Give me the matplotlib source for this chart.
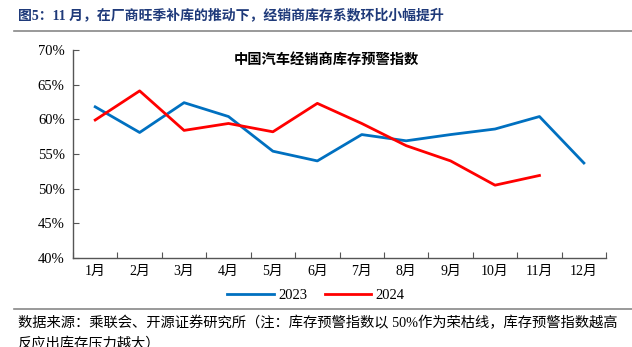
import numpy as np
import matplotlib
matplotlib.use("Agg")
import matplotlib.pyplot as plt
from matplotlib.lines import Line2D

plt.rcParams['font.family'] = ['Liberation Serif', 'Noto Sans CJK SC']

months = ['1月', '2月', '3月', '4月', '5月', '6月', '7月', '8月', '9月', '10月', '11月', '12月']
inv_2023 = [61.8, 58.1, 62.4, 60.4, 55.4, 54.0, 57.8, 56.9, 57.8, 58.6, 60.4, 53.7]
inv_2024 = [59.9, 64.1, 58.4, 59.4, 58.2, 62.3, 59.4, 56.2, 54.0, 50.5, 51.9]
y_ticks = [40, 45, 50, 55, 60, 65, 70]

fig = plt.figure(figsize=(6.32, 3.47), dpi=100)
ax = fig.add_axes([0.1155, 0.2565, 0.8435, 0.5995])

x = np.arange(len(months))
ax.plot(x, inv_2023, color='#0070C0', lw=2.0, label='2023')
ax.plot(x[:len(inv_2024)], inv_2024, color='#FF0000', lw=2.0, label='2024')

ax.set_xlim(-0.5, len(months) - 0.5)
ax.set_ylim(40, 70)
ax.set_yticks(y_ticks)
ax.set_yticklabels([f'{v}%' for v in y_ticks], fontsize=10.5)
ax.set_xticks(np.arange(len(months) + 1) - 0.5)
ax.set_xticklabels([])
ax.set_xticks(x, minor=True)
ax.set_xticklabels(months, minor=True, fontsize=10)
ax.tick_params(axis='x', which='major', direction='in', length=4, color='#555555')
ax.tick_params(axis='x', which='minor', length=0, pad=5)
ax.tick_params(axis='y', direction='in', length=4, color='#555555', pad=6)
for s in ['top', 'right']:
    ax.spines[s].set_visible(False)
for s in ['left', 'bottom']:
    ax.spines[s].set_color('#555555')
    ax.spines[s].set_linewidth(1.0)

ax.text(0.475, 0.985, '中国汽车经销商库存预警指数', transform=ax.transAxes,
        ha='center', va='top', fontsize=10.3, fontweight='bold')

fig.legend(loc='center', bbox_to_anchor=(0.5, 0.148), ncol=2, frameon=False,
           fontsize=10.5, handlelength=3.2, columnspacing=1.2, handletextpad=0.3)

fig.text(0.028, 0.955, '图5：11 月，在厂商旺季补库的推动下，经销商库存系数环比小幅提升',
         ha='left', va='center', fontsize=10, fontweight='bold', color='#1F3A7A')
fig.add_artist(Line2D([0.022, 1.0], [0.91, 0.91], color='#888888', lw=1.2))
fig.add_artist(Line2D([0.022, 1.0], [0.11, 0.11], color='#888888', lw=1.2))
fig.text(0.028, 0.068, '数据来源：乘联会、开源证券研究所（注：库存预警指数以 50%作为荣枯线，库存预警指数越高',
         ha='left', va='center', fontsize=10.3)
fig.text(0.028, 0.008, '反应出库存压力越大）', ha='left', va='center', fontsize=10.3)

fig.savefig('out.png', dpi=100)
